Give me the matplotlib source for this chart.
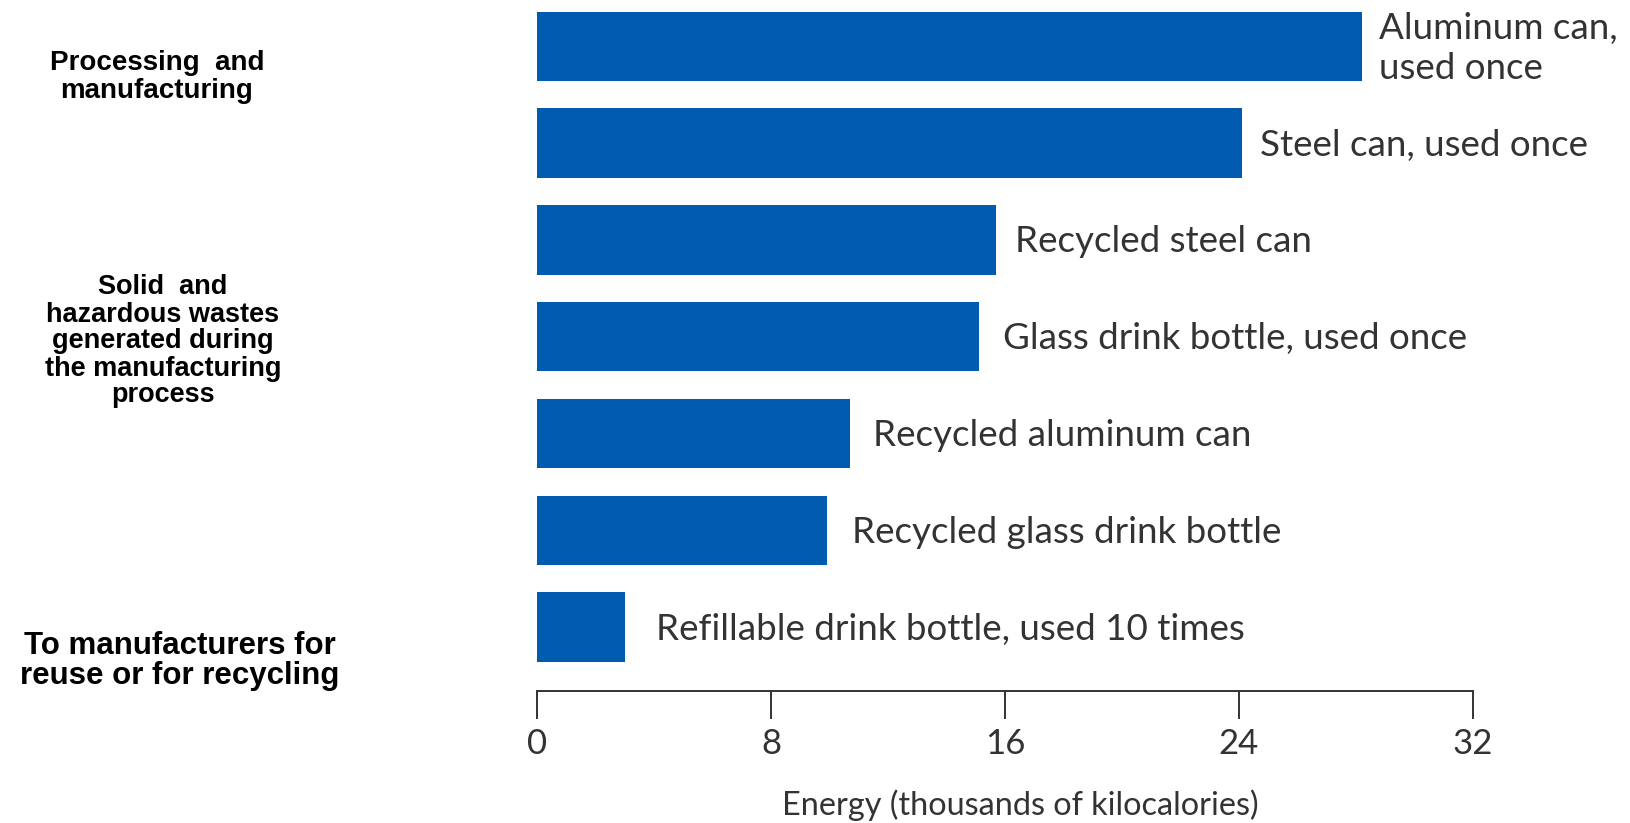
import matplotlib
matplotlib.use("Agg")
import matplotlib.pyplot as plt

# ---- data ----
categories = [
    "Aluminum can,\nused once",
    "Steel can, used once",
    "Recycled steel can",
    "Glass drink bottle, used once",
    "Recycled aluminum can",
    "Recycled glass drink bottle",
    "Refillable drink bottle, used 10 times",
]
energy = [28.2, 24.1, 15.7, 15.1, 10.7, 9.9, 3.0]
x_ticks = [0, 8, 16, 24, 32]
x_label = "Energy (thousands of kilocalories)"
side_notes = [
    "Processing  and\nmanufacturing",
    "Solid  and\nhazardous wastes\ngenerated during\nthe manufacturing\nprocess",
    "To manufacturers for\nreuse or for recycling",
]

# ---- style ----
W, H = 1630, 823
BAR_COLOR = "#015CAF"
TEXT_COLOR = "#333333"
LABEL_FONT = ["Lato", "DejaVu Sans"]
NOTE_FONT = ["Liberation Sans", "DejaVu Sans"]
label_pads = [12.7, 13.5, 13.5, 17.3, 16.5, 18, 22.5]  # points

fig = plt.figure(figsize=(W / 100, H / 100), dpi=100)
ax = fig.add_axes([537.3 / W, (H - 690.7) / H, 935.3 / W, 690.7 / H])

ypos = list(range(len(categories)))
ax.barh(ypos, energy, height=0.717, color=BAR_COLOR, edgecolor="none")

for y, v, lab, pad in zip(ypos, energy, categories, label_pads):
    ax.annotate(lab, xy=(v, y), xytext=(pad, -1.5), textcoords="offset points",
                ha="left", va="center", fontsize=26.5, family=LABEL_FONT,
                fontweight="normal", color=TEXT_COLOR, linespacing=1.25,
                annotation_clip=False)

ax.set_xlim(0, 32)
ax.set_ylim(6.658, -0.478)
ax.set_xticks(x_ticks)
ax.set_xticklabels([str(t) for t in x_ticks], family=LABEL_FONT,
                   fontsize=25, fontweight="normal", color=TEXT_COLOR)
ax.tick_params(axis="x", direction="out", length=20, width=1.4,
               color=TEXT_COLOR, pad=7)
ax.set_yticks([])
for s in ("top", "right", "left"):
    ax.spines[s].set_visible(False)
ax.spines["bottom"].set_color(TEXT_COLOR)
ax.spines["bottom"].set_linewidth(1.4)

ax.set_xlabel(x_label, family=LABEL_FONT, fontsize=23.3, fontweight="normal",
              color=TEXT_COLOR, va="baseline")
ax.xaxis.set_label_coords((1020.5 - 537.3) / 935.3, -(815 - 690.7) / 690.7)

# ---- left-side notes ----
note_specs = [
    (157, 50, 20, 1.08),
    (163, 274.5, 19.5, 1.05),
    (180, 631, 22.5, 0.98),
]
for txt, (cx, top, fs, ls) in zip(side_notes, note_specs):
    fig.text(cx / W, 1 - top / H, txt, ha="center", va="top",
             multialignment="center", fontsize=fs, fontweight="bold",
             family=NOTE_FONT, color="black", linespacing=ls)

fig.savefig("out.png", dpi=100, facecolor="white")
